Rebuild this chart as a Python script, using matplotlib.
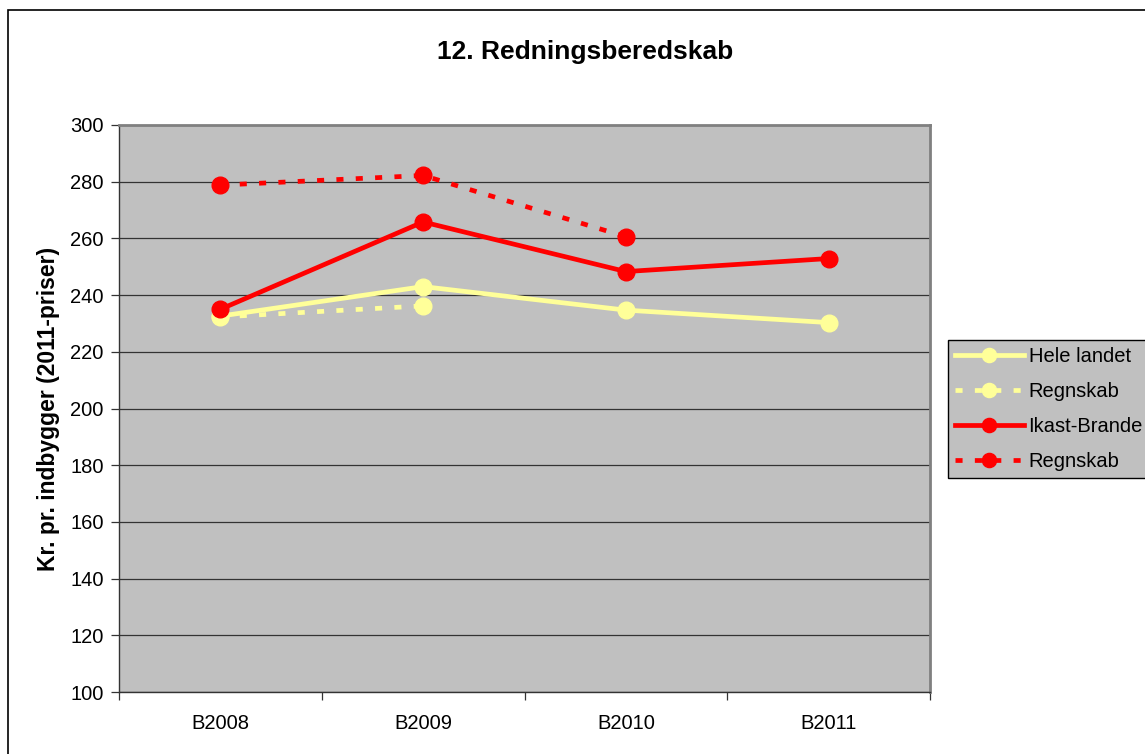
import matplotlib
matplotlib.use("Agg")
import matplotlib.pyplot as plt
import matplotlib.patches as mpatches

plt.rcParams["font.family"] = ["Liberation Sans", "DejaVu Sans"]

categories = ["B2008", "B2009", "B2010", "B2011"]
hele_landet = [232.6, 243.0, 234.7, 230.3]
hele_regnskab = [232.3, 236.2]
ikast = [235.0, 265.8, 248.3, 252.9]
ikast_regnskab = [278.8, 282.2, 260.6]

yticks = list(range(100, 301, 20))

fig = plt.figure(figsize=(11.45, 7.54), dpi=100)
fig.patch.set_facecolor("white")

# chart frame
frame = mpatches.Rectangle((8 / 1145, 0 - 0.01), 1.2, (754 - 10) / 754 + 0.01,
                           transform=fig.transFigure, facecolor="none",
                           edgecolor="black", linewidth=1.2)
fig.patches.append(frame)

ax = fig.add_axes([119 / 1145, 62 / 754, 811 / 1145, 567 / 754])
ax.set_facecolor("#C0C0C0")

x = list(range(len(categories)))
dash = (0, (1.5, 2.6))
lw = 3.4
ms = 12

ax.plot(x, hele_landet, color="#FFFF99", lw=lw, marker="o", ms=ms,
        label="Hele landet", zorder=3)
ax.plot(x[:len(hele_regnskab)], hele_regnskab, color="#FFFF99", lw=lw,
        ls=dash, marker="o", ms=ms, label="Regnskab", zorder=3)
ax.plot(x, ikast, color="#FF0000", lw=lw, marker="o", ms=ms,
        label="Ikast-Brande", zorder=4)
ax.plot(x[:len(ikast_regnskab)], ikast_regnskab, color="#FF0000", lw=lw,
        ls=dash, marker="o", ms=ms, label="Regnskab", zorder=4)

ax.set_xlim(-0.5, 3.5)
ax.set_ylim(100, 300)
ax.set_yticks(yticks)
ax.yaxis.grid(True, color="#333333", lw=0.9)
ax.set_axisbelow(True)

ax.set_xticks(x)
ax.set_xticklabels(categories, fontsize=14.5)
ax.set_xticks([-0.5, 0.5, 1.5, 2.5, 3.5], minor=True)
ax.tick_params(axis="x", which="major", length=0, pad=16)
ax.tick_params(axis="x", which="minor", length=6, width=0.9, color="#333333")
ax.tick_params(axis="y", labelsize=14.5, length=6, width=0.9,
               color="#333333", pad=5)

for side in ["left", "bottom"]:
    ax.spines[side].set_color("#333333")
    ax.spines[side].set_linewidth(1.0)
for side in ["top", "right"]:
    ax.spines[side].set_color("#808080")
    ax.spines[side].set_linewidth(2.0)

ax.set_ylabel("Kr. pr. indbygger (2011-priser)", fontsize=16.5,
              fontweight="bold", labelpad=7)

fig.text(585 / 1145, 1 - 52 / 754, "12. Redningsberedskab", ha="center",
         va="center", fontsize=19, fontweight="bold")

leg = ax.legend(loc="upper left", bbox_to_anchor=(948 / 1145, 1 - 340 / 754),
                bbox_transform=fig.transFigure, frameon=True, fancybox=False,
                facecolor="#C0C0C0", edgecolor="black", framealpha=1,
                fontsize=14.5, handlelength=3.4, handletextpad=0.25,
                borderpad=0.35, labelspacing=0.8, borderaxespad=0,
                markerscale=0.85)
leg.get_frame().set_linewidth(1.0)

fig.savefig("out.png", dpi=100)
